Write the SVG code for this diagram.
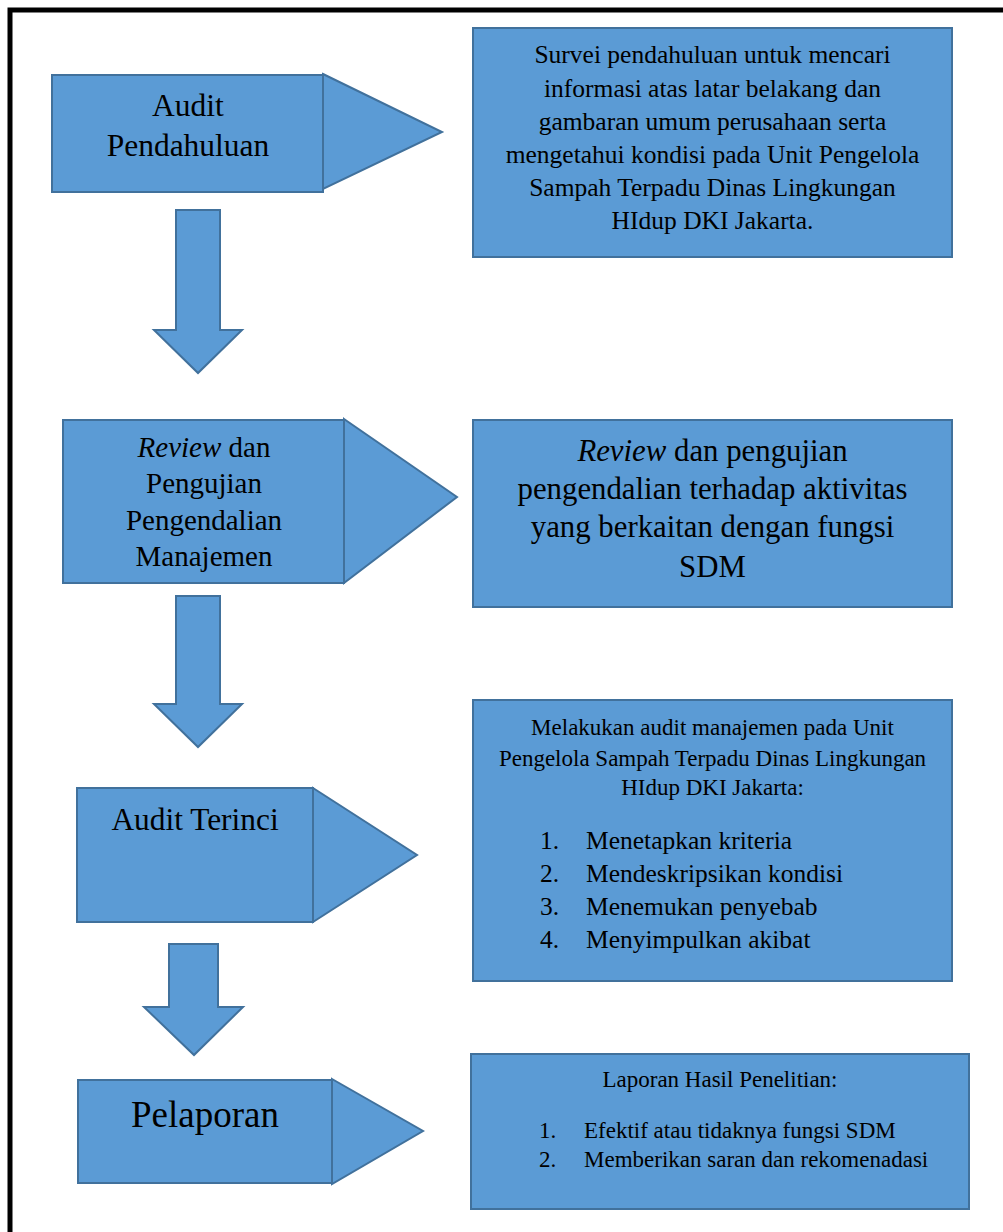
<svg xmlns="http://www.w3.org/2000/svg" width="1003" height="1232" viewBox="0 0 1003 1232">
<style>
.shape{fill:#5B9BD5;stroke:#41719C;stroke-width:2;stroke-linejoin:miter}
text{font-family:"Liberation Serif","Times New Roman",serif;fill:#000}
.c{text-anchor:middle}
.i{font-style:italic}
</style>
<rect x="0" y="0" width="1003" height="1232" fill="#fff"/>
<path d="M10,1232 V10 H1003" fill="none" stroke="#000" stroke-width="5"/>

<g id="node-audit-pendahuluan">
<rect class="shape" x="52" y="75" width="271" height="117"/>
<polygon class="shape" points="323,74 442,132 323,189"/>
<text class="c" x="188" y="116" font-size="31.5">Audit</text>
<text class="c" x="188" y="156" font-size="31.5">Pendahuluan</text>
</g>

<g id="node-desc-1">
<rect class="shape" x="473" y="28" width="479" height="229"/>
<text class="c" font-size="25.5" x="712.5" y="63">Survei pendahuluan untuk mencari</text>
<text class="c" font-size="25.5" x="712.5" y="97">informasi atas latar belakang dan</text>
<text class="c" font-size="25.5" x="712.5" y="130">gambaran umum perusahaan serta</text>
<text class="c" font-size="25.5" x="712.5" y="163">mengetahui kondisi pada Unit Pengelola</text>
<text class="c" font-size="25.5" x="712.5" y="196">Sampah Terpadu Dinas Lingkungan</text>
<text class="c" font-size="25.5" x="712.5" y="229">HIdup DKI Jakarta.</text>
</g>

<g id="node-review">
<rect class="shape" x="63" y="420" width="281" height="163"/>
<polygon class="shape" points="344,419 457,497 344,583"/>
<text class="c" font-size="29" x="204" y="457"><tspan class="i">Review</tspan> dan</text>
<text class="c" font-size="29" x="204" y="493">Pengujian</text>
<text class="c" font-size="29" x="204" y="530">Pengendalian</text>
<text class="c" font-size="29" x="204" y="566">Manajemen</text>
</g>

<g id="node-desc-2">
<rect class="shape" x="473" y="420" width="479" height="187"/>
<text class="c" font-size="30.8" x="712.5" y="461"><tspan class="i">Review</tspan> dan pengujian</text>
<text class="c" font-size="30.8" x="712.5" y="499">pengendalian terhadap aktivitas</text>
<text class="c" font-size="30.8" x="712.5" y="537">yang berkaitan dengan fungsi</text>
<text class="c" font-size="30.8" x="712.5" y="577">SDM</text>
</g>

<g id="node-audit-terinci">
<rect class="shape" x="77" y="788" width="236" height="134"/>
<polygon class="shape" points="313,788 417,855 313,922"/>
<text class="c" font-size="31.4" x="195" y="830">Audit Terinci</text>
</g>

<g id="node-desc-3">
<rect class="shape" x="473" y="700" width="479" height="281"/>
<text class="c" font-size="23" x="712.5" y="735">Melakukan audit manajemen pada Unit</text>
<text class="c" font-size="23" x="712.5" y="766">Pengelola Sampah Terpadu Dinas Lingkungan</text>
<text class="c" font-size="23" x="712.5" y="795">HIdup DKI Jakarta:</text>
<text font-size="25.5" x="540" y="849">1.</text><text font-size="25.5" x="586" y="849">Menetapkan kriteria</text>
<text font-size="25.5" x="540" y="882">2.</text><text font-size="25.5" x="586" y="882">Mendeskripsikan kondisi</text>
<text font-size="25.5" x="540" y="915">3.</text><text font-size="25.5" x="586" y="915">Menemukan penyebab</text>
<text font-size="25.5" x="540" y="948">4.</text><text font-size="25.5" x="586" y="948">Menyimpulkan akibat</text>
</g>

<g id="node-pelaporan">
<rect class="shape" x="78" y="1080" width="254" height="103"/>
<polygon class="shape" points="332,1079 423,1131 332,1184"/>
<text class="c" font-size="37" x="205" y="1127">Pelaporan</text>
</g>

<g id="node-desc-4">
<rect class="shape" x="471" y="1054" width="498" height="155"/>
<text class="c" font-size="23" x="720" y="1087">Laporan Hasil Penelitian:</text>
<text font-size="23" x="539" y="1138">1.</text><text font-size="23" x="584" y="1138">Efektif atau tidaknya fungsi SDM</text>
<text font-size="23" x="539" y="1167">2.</text><text font-size="23" x="584" y="1167">Memberikan saran dan rekomenadasi</text>
</g>

<g id="connectors">
<polygon class="shape" points="176,210 220,210 220,330 242,330 198,373 154,330 176,330"/>
<polygon class="shape" points="176,596 220,596 220,704 242,704 198,747 154,704 176,704"/>
<polygon class="shape" points="169,944 218,944 218,1007 243,1007 194,1055 144,1007 169,1007"/>
</g>
</svg>
